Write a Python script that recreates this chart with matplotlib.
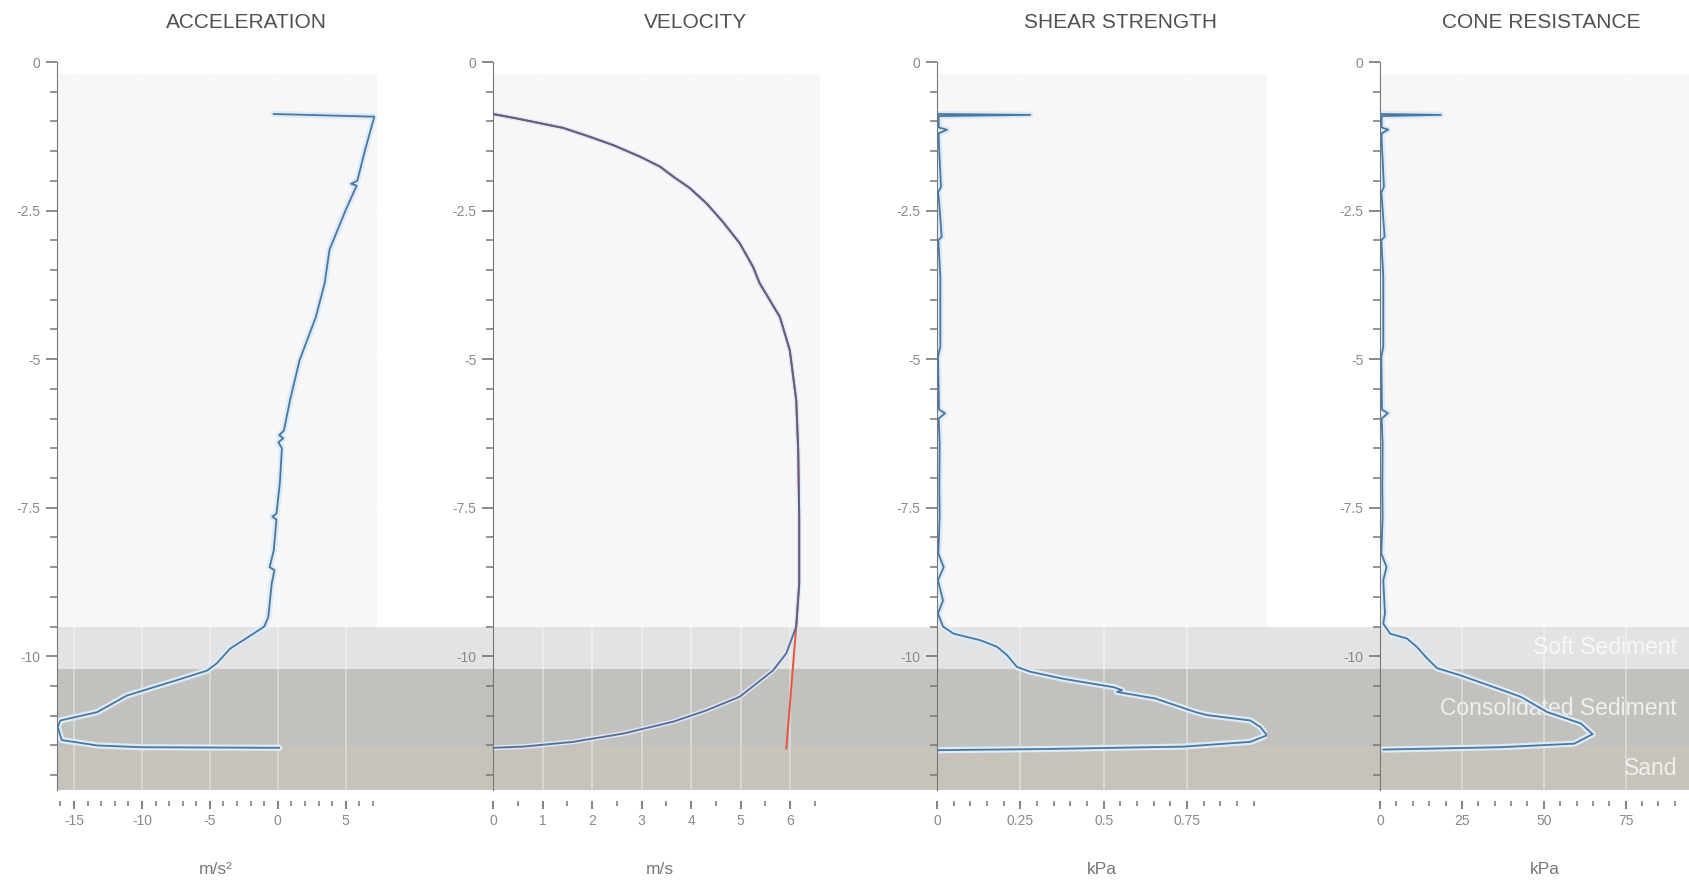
import numpy as np
import matplotlib
matplotlib.use("Agg")
import matplotlib.pyplot as plt
from matplotlib.ticker import MultipleLocator, FuncFormatter
from matplotlib.transforms import blended_transform_factory

plt.rcParams['font.family'] = ['Liberation Sans', 'DejaVu Sans']
plt.rcParams['axes.unicode_minus'] = False

# depth profile data (m, negative downwards)
acc_depth = [-0.875, -0.92, -1.5, -2.0, -2.05, -2.08, -2.49, -3.16, -3.72, -4.29, -5.02, -5.69,
             -6.2, -6.28, -6.33, -6.4, -6.5, -7.09, -7.6, -7.65, -7.7, -8.22, -8.5, -8.55, -8.78,
             -9.34, -9.5, -9.62, -9.87, -10.12, -10.24, -10.4, -10.54, -10.66, -10.94, -11.08,
             -11.19, -11.41, -11.5, -11.53, -11.54]
acc = [-0.3, 7.1, 6.4, 5.85, 5.4, 5.8, 5.0, 3.8, 3.45, 2.8, 1.6, 0.9,
       0.45, 0.1, 0.4, 0.05, 0.3, 0.15, -0.1, -0.4, -0.1, -0.3, -0.6, -0.25, -0.45,
       -0.7, -1.0, -1.8, -3.5, -4.5, -5.2, -7.4, -9.4, -11.1, -13.3, -16.0,
       -16.2, -15.9, -13.3, -10.1, 0.1]

vel_depth = [-0.875, -0.95, -1.03, -1.11, -1.26, -1.4, -1.59, -1.76, -1.93, -2.12, -2.38, -2.69,
             -3.05, -3.45, -3.72, -4.29, -4.85, -5.69, -6.53, -7.65, -8.78, -9.5, -9.95, -10.24,
             -10.68, -10.91, -11.1, -11.3, -11.44, -11.52, -11.54]
vel = [0.0, 0.48, 0.95, 1.42, 1.96, 2.43, 2.96, 3.37, 3.64, 3.97, 4.31, 4.64,
       4.98, 5.25, 5.38, 5.79, 5.99, 6.12, 6.16, 6.18, 6.18, 6.12, 5.92, 5.65,
       4.98, 4.31, 3.64, 2.63, 1.62, 0.61, 0.0]
model_depth = [-0.875, -0.95, -1.03, -1.11, -1.26, -1.4, -1.59, -1.76, -1.93, -2.12, -2.38,
               -2.69, -3.05, -3.45, -3.72, -4.29, -4.85, -5.69, -6.53, -7.65, -8.78, -9.5, -11.55]
model_vel = [0.0, 0.48, 0.95, 1.42, 1.96, 2.43, 2.96, 3.37, 3.64, 3.97, 4.31,
             4.64, 4.98, 5.25, 5.38, 5.79, 5.99, 6.12, 6.16, 6.18, 6.18, 6.12, 5.92]

shear_depth = [-0.875, -0.89, -0.91, -1.1, -1.14, -1.2, -1.31, -2.1, -2.2, -2.33, -2.94, -3.0,
               -3.61, -4.79, -4.96, -5.85, -5.91, -6.0, -6.42, -7.15, -7.65, -8.27, -8.5, -8.72,
               -9.06, -9.28, -9.5, -9.62, -9.73, -9.84, -9.98, -10.18, -10.26, -10.38, -10.52,
               -10.57, -10.6, -10.71, -10.94, -10.99, -11.08, -11.19, -11.33, -11.44, -11.52,
               -11.56, -11.58]
shear = [0.0, 0.28, 0.005, 0.005, 0.03, 0.005, 0.005, 0.012, 0.003, 0.006, 0.014, 0.004,
         0.01, 0.01, 0.003, 0.006, 0.024, 0.005, 0.008, 0.007, 0.008, 0.004, 0.02, 0.003,
         0.018, 0.003, 0.018, 0.05, 0.13, 0.18, 0.21, 0.24, 0.28, 0.38, 0.53,
         0.555, 0.54, 0.655, 0.776, 0.81, 0.94, 0.97, 0.99, 0.94, 0.74,
         0.33, 0.0]

cone_depth = [-0.875, -0.89, -0.91, -1.1, -1.14, -1.2, -1.31, -2.1, -2.2, -2.33, -2.94, -3.0,
              -3.61, -4.79, -4.96, -5.85, -5.91, -6.0, -6.42, -7.15, -7.65, -8.27, -8.5, -8.72,
              -9.28, -9.45, -9.62, -9.7, -9.84, -10.03, -10.2, -10.32, -10.52, -10.68, -10.94,
              -11.13, -11.31, -11.47, -11.53, -11.57]
cone = [0.0, 18.6, 0.5, 0.5, 2.5, 0.5, 0.5, 1.2, 0.4, 0.6, 1.4, 0.4,
        1.0, 1.0, 0.4, 0.6, 2.4, 0.5, 0.8, 0.7, 0.8, 0.4, 2.0, 1.0,
        1.5, 1.0, 3.1, 8.2, 11.2, 14.3, 17.4, 24.5, 34.8, 42.9, 51.1,
        61.3, 64.9, 59.3, 36.8, 1.0]

# sediment layers
layer_names = ['Soft Sediment', 'Consolidated Sediment', 'Sand']
layer_top = [-9.5, -10.22, -11.53]
layer_bottom = [-10.22, -11.53, -12.25]
layer_colors = ['#e3e3e3', '#c3c1bd', '#c8c3ba']

titles = ['ACCELERATION', 'VELOCITY', 'SHEAR STRENGTH', 'CONE RESISTANCE']
units = ['m/s²', 'm/s', 'kPa', 'kPa']
title_x = [246, 695, 1121, 1541]
unit_x = [216, 660, 1102, 1545]

W, H = 1690, 889
fig = plt.figure(figsize=(W / 100, H / 100), dpi=100)

ymin, ymax = -12.25, 0
bottom = (H - 790) / H
height = (790 - 62) / H

# background bands across all panels
bg = fig.add_axes([57 / W, bottom, 1 - 57 / W, height], zorder=0)
bg.set_ylim(ymin, ymax)
bg.set_xlim(0, 1)
bg.axis('off')
tr = blended_transform_factory(fig.transFigure, bg.transData)
for top, bot, c, name in zip(layer_top, layer_bottom, layer_colors, layer_names):
    bg.axhspan(bot, top, color=c, lw=0)
    bg.text(1677 / W, (top + bot) / 2, name, transform=tr, ha='right', va='center',
            color='white', alpha=0.75, fontsize=16.5)

line_c = '#4a77a0'
halo_c = '#dcebf7'

panels = [
    dict(left=57, width=320, xlim=(-16.25, 7.3), major=5, minor=1),
    dict(left=493, width=327, xlim=(0, 6.6), major=1, minor=0.5),
    dict(left=937, width=330, xlim=(0, 0.99), major=0.25, minor=0.05),
    dict(left=1380, width=326, xlim=(0, 99.5), major=25, minor=5),
]

axes = []
for i, p in enumerate(panels):
    ax = fig.add_axes([p['left'] / W, bottom, p['width'] / W, height], zorder=1)
    ax.set_facecolor('none')
    ax.set_xlim(*p['xlim'])
    ax.set_ylim(ymin, ymax)
    # light plot area above the layers
    ax.axhspan(layer_top[0], -0.2, color='#f7f7f7', lw=0, zorder=0)
    xs_grid = np.arange(0, p['xlim'][1], p['major']).tolist() + \
        np.arange(-p['major'], p['xlim'][0], -p['major']).tolist()
    for xv in xs_grid:
        ax.axvline(xv, ymax=(-0.2 - ymin) / (ymax - ymin), color='white', lw=1.1,
                   alpha=0.45, zorder=0.5)
    for yv in [-2.5, -5, -7.5]:
        ax.axhline(yv, color='white', lw=1.1, alpha=0.45, zorder=0.5)

    for s in ['top', 'right']:
        ax.spines[s].set_visible(False)
    ax.spines['left'].set_color('#777777')
    ax.spines['bottom'].set_position(('outward', 8))
    ax.spines['bottom'].set_visible(False)

    ax.yaxis.set_major_locator(MultipleLocator(2.5))
    ax.yaxis.set_minor_locator(MultipleLocator(0.5))
    ax.xaxis.set_major_locator(MultipleLocator(p['major']))
    ax.xaxis.set_minor_locator(MultipleLocator(p['minor']))
    fmt = FuncFormatter(lambda v, pos: '{:g}'.format(round(v, 4)))
    ax.xaxis.set_major_formatter(fmt)
    ax.yaxis.set_major_formatter(fmt)
    ax.tick_params(axis='y', which='major', length=8, width=1.2, color='#777777',
                   labelcolor='#8a8a8a', labelsize=10, pad=4)
    ax.tick_params(axis='y', which='minor', length=5, width=1.1, color='#777777')
    ax.tick_params(axis='x', which='major', length=6, width=1.3, color='#777777',
                   labelcolor='#8a8a8a', labelsize=10, pad=3)
    ax.tick_params(axis='x', which='minor', length=3.5, width=1.1, color='#777777')

    fig.text(title_x[i] / W, (H - 23) / H, titles[i], ha='center', va='center',
             fontsize=15, color='#505050')
    fig.text(unit_x[i] / W, (H - 870) / H, units[i], ha='center', va='center',
             fontsize=12.5, color='#777777')
    axes.append(ax)

# profiles
series = [(axes[0], acc, acc_depth), (axes[2], shear, shear_depth), (axes[3], cone, cone_depth)]
for ax, xs, ds in series:
    ax.plot(xs, ds, color=halo_c, lw=4.5, solid_capstyle='round', zorder=2)
    ax.plot(xs, ds, color=line_c, lw=1.3, zorder=3)

axes[1].plot(vel, vel_depth, color=halo_c, lw=3.5, zorder=2)
axes[1].plot(model_vel, model_depth, color='#e4573c', lw=1.4, zorder=3)
axes[1].plot(vel, vel_depth, color='#52608f', lw=1.4, alpha=0.9, zorder=4)

fig.savefig('out.png', dpi=100, facecolor='white')
